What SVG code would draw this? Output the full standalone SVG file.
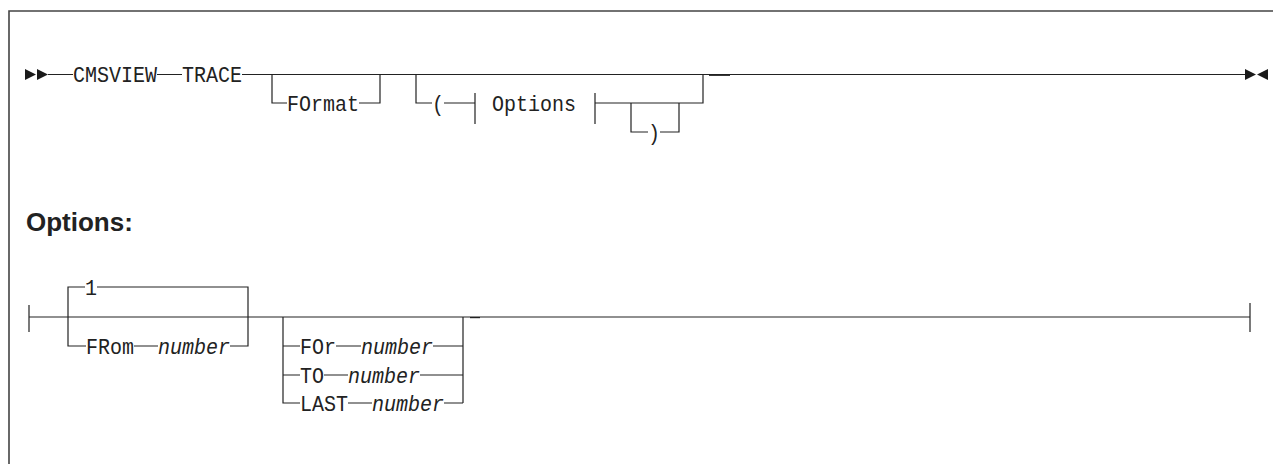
<svg xmlns="http://www.w3.org/2000/svg" width="1273" height="464" viewBox="0 0 1273 464">
<style>
.t{font-family:"Liberation Mono","DejaVu Sans Mono",monospace;font-size:22px;fill:#222}
.v{font-style:italic}
.h{font-family:"Liberation Sans",Arial,sans-serif;font-weight:bold;font-size:26px;fill:#222}
.ln{stroke:#222;stroke-width:1.2;fill:none}
.fr{stroke:#444;stroke-width:1.6;fill:none}
.ar{fill:#1a1a1a}
</style>
<rect width="1273" height="464" fill="#fff"/>
<g id="frame"><path class="fr" d="M9,464V11H1273"/></g>
<g id="connectors">
<path class="ar" d="M25,69L36,74.5L25,80ZM37,69L48,74.5L37,80Z"/>
<path class="ar" d="M1245,69L1256,74.5L1245,80ZM1268,69L1257,74.5L1268,80Z"/>
<path class="ln" d="M48,74.5H73M157,74.5H182M242,74.5H1245"/>
<path class="ln" d="M272,74.5V103H287M359,103H380V74.5"/>
<path class="ln" d="M416,74.5V103H432M444,103H475M475,93V124M595,93V124M595,103H703V74.5"/>
<path class="ln" d="M631,103V132H648M660,132H679V103"/>
<path class="ln" d="M709,75.3H730" stroke-width="1.5"/>
<path class="ln" d="M29,305V332M29,317H1250M1250,303V332"/>
<path class="ln" d="M68,317V287H85M97,287H248V346H230M158,346H134M86,346H68V317"/>
<path class="ln" d="M283,317V403H300M283,346H300M283,375H300M463,317V403"/>
<path class="ln" d="M336,346H361M433,346H463M324,375H348M420,375H463M348,403H372M444,403H463"/>
<path class="ln" d="M470,317.6H480" stroke-width="1.5"/>
</g>
<g id="n-cmsview"><text class="t" x="73" y="82" textLength="84" lengthAdjust="spacingAndGlyphs">CMSVIEW</text></g>
<g id="n-trace"><text class="t" x="182" y="82" textLength="60" lengthAdjust="spacingAndGlyphs">TRACE</text></g>
<g id="n-format"><text class="t" x="287" y="110.5" textLength="72" lengthAdjust="spacingAndGlyphs">FOrmat</text></g>
<g id="n-lparen"><text class="t" x="432" y="110.5" textLength="12" lengthAdjust="spacingAndGlyphs">(</text></g>
<g id="n-options-ref"><text class="t" x="492" y="110.5" textLength="84" lengthAdjust="spacingAndGlyphs">Options</text></g>
<g id="n-rparen"><text class="t" x="648" y="139.5" textLength="12" lengthAdjust="spacingAndGlyphs">)</text></g>
<g id="n-options-heading"><text class="h" x="26" y="231">Options:</text></g>
<g id="n-default1"><text class="t" x="85" y="294.5" textLength="12" lengthAdjust="spacingAndGlyphs">1</text></g>
<g id="n-from"><text class="t" x="86" y="353.5" textLength="48" lengthAdjust="spacingAndGlyphs">FRom</text><text class="t v" x="158" y="353.5" textLength="72" lengthAdjust="spacingAndGlyphs">number</text></g>
<g id="n-for"><text class="t" x="300" y="353.5" textLength="36" lengthAdjust="spacingAndGlyphs">FOr</text><text class="t v" x="361" y="353.5" textLength="72" lengthAdjust="spacingAndGlyphs">number</text></g>
<g id="n-to"><text class="t" x="300" y="382.5" textLength="24" lengthAdjust="spacingAndGlyphs">TO</text><text class="t v" x="348" y="382.5" textLength="72" lengthAdjust="spacingAndGlyphs">number</text></g>
<g id="n-last"><text class="t" x="300" y="410.5" textLength="48" lengthAdjust="spacingAndGlyphs">LAST</text><text class="t v" x="372" y="410.5" textLength="72" lengthAdjust="spacingAndGlyphs">number</text></g>
</svg>
